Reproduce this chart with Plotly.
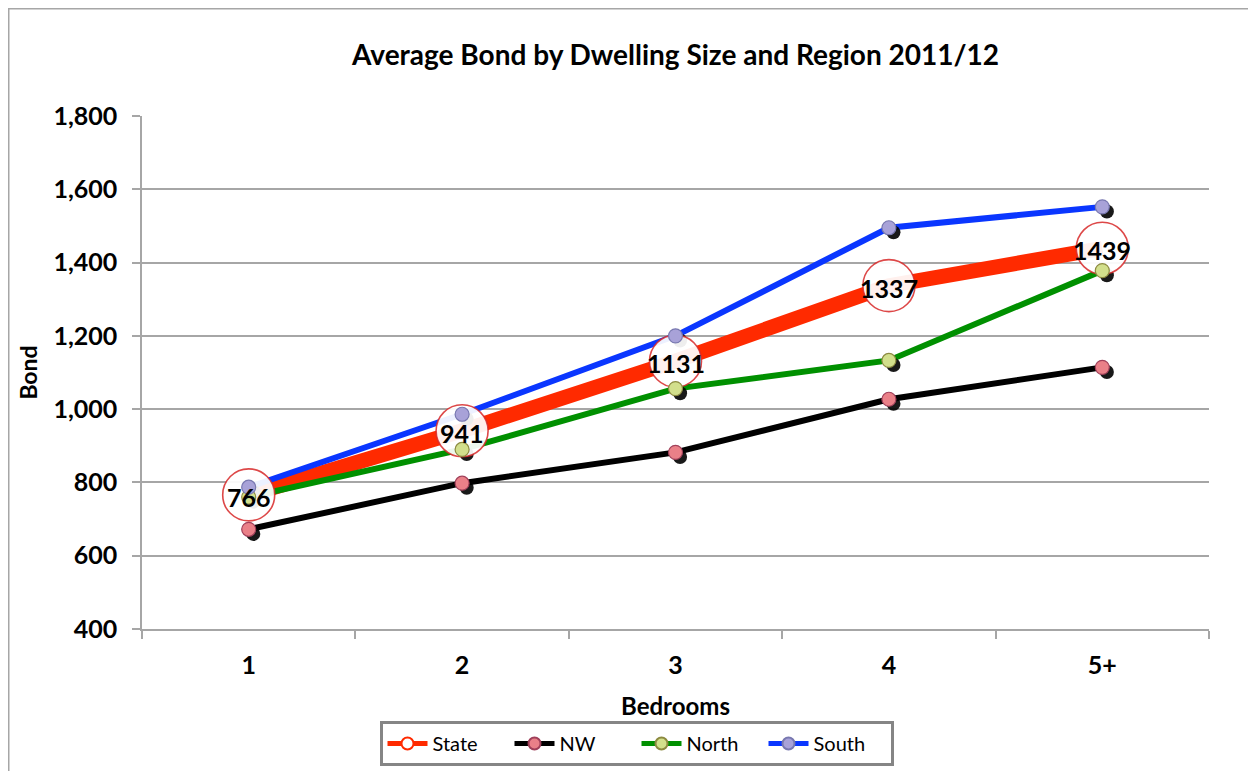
import plotly.graph_objects as go

# ---------------- data ----------------
bedrooms = ["1", "2", "3", "4", "5+"]
state = [766, 941, 1131, 1337, 1439]
nw = [672, 798, 882, 1027, 1114]
north = [760, 890, 1056, 1133, 1378]
south = [787, 986, 1200, 1495, 1552]
y_tick_vals = [400, 600, 800, 1000, 1200, 1400, 1600, 1800]
y_tick_text = ["400", "600", "800", "1,000", "1,200", "1,400", "1,600", "1,800"]

title = "Average Bond by Dwelling Size and Region 2011/12"
FONT = "Lato"

series = [
    # name, values, line colour, line width, marker fill, marker border
    ("State", state, "#ff2a00", 15, "white", "#d23a3a"),
    ("NW", nw, "#000000", 6, "#ea8088", "#a0405a"),
    ("North", north, "#009000", 6, "#d2df8c", "#8c8a40"),
    ("South", south, "#0a36ff", 6, "#a8a2d8", "#7878b0"),
]

fig = go.Figure()

# layer 1: lines
for name, vals, lc, lw, mf, mb in series:
    fig.add_trace(go.Scatter(x=bedrooms, y=vals, mode="lines",
                             line=dict(color=lc, width=lw),
                             showlegend=False, hoverinfo="skip",
                             xaxis="x", yaxis="y"))

# layer 2: marker shadows (small markers only)
for name, vals, lc, lw, mf, mb in series[1:]:
    fig.add_trace(go.Scatter(x=bedrooms, y=vals, mode="markers",
                             marker=dict(color="rgba(0,0,0,0.9)", size=14),
                             showlegend=False, hoverinfo="skip",
                             xaxis="x2", yaxis="y2"))

# layer 3: markers
for name, vals, lc, lw, mf, mb in series:
    if name == "State":
        mk = dict(color="rgba(255,255,255,0.93)", size=52,
                  line=dict(color="rgba(215,40,40,0.85)", width=1.6))
    else:
        mk = dict(color=mf, size=14, line=dict(color=mb, width=1.2))
    fig.add_trace(go.Scatter(x=bedrooms, y=vals, mode="markers", marker=mk,
                             showlegend=False, hoverinfo="skip",
                             xaxis="x3", yaxis="y3"))

# legend entries
for name, vals, lc, lw, mf, mb in series:
    if name == "State":
        mk = dict(color="white", size=13, line=dict(color=lc, width=2))
    else:
        mk = dict(color=mf, size=13, line=dict(color=mb, width=1.2))
    fig.add_trace(go.Scatter(x=[None], y=[None], mode="lines+markers", name=name,
                             line=dict(color=lc, width=min(lw, 10)), marker=mk,
                             xaxis="x3", yaxis="y3"))

# data labels for State (annotations on top of everything);
# on a category axis an annotation's x is the category's index
for i, v in enumerate(state):
    fig.add_annotation(x=i, y=v, xref="x3", yref="y3", text=str(v),
                       showarrow=False, xanchor="center", yanchor="middle",
                       yshift=-2,
                       font=dict(family=FONT, size=25, color="black", weight="bold"))

grid = "#a6a6a6"
xr = [-0.5, 4.5]
yr = [400, 1800]
dx = 0.0215
dy = 12.5

# plot area in figure pixels
L, T, R, B = 134, 108, 1201, 621
PW, PH = R - L, B - T

common_x = dict(type="category", categoryorder="array", categoryarray=bedrooms)

fig.update_layout(
    width=1256, height=771,
    paper_bgcolor="white", plot_bgcolor="white",
    margin=dict(l=L, r=1256 - R, t=T, b=771 - B),
    font=dict(family=FONT, color="black"),
    title=dict(text=title, x=0.5, xref="paper", xanchor="center",
               y=1 - 47 / 771, yref="container", yanchor="middle",
               font=dict(family=FONT, size=28, color="black", weight="bold")),
    xaxis=dict(**common_x, range=xr,
               showline=True, linecolor=grid, linewidth=1.5,
               ticks="outside", tickson="boundaries", ticklen=8, tickcolor=grid,
               tickwidth=1.5,
               showgrid=False, zeroline=False,
               tickfont=dict(family=FONT, size=25, color="black", weight="bold"),
               ticklabelstandoff=13,
               title=dict(text="Bedrooms", standoff=20,
                          font=dict(family=FONT, size=24, color="black", weight="bold"))),
    yaxis=dict(range=yr, tickvals=y_tick_vals, ticktext=y_tick_text,
               showline=True, linecolor=grid, linewidth=1.5,
               ticks="outside", ticklen=8, tickcolor=grid, tickwidth=1.5,
               showgrid=True, gridcolor=grid, gridwidth=1.5, zeroline=False,
               tickfont=dict(family=FONT, size=25, color="black", weight="bold"),
               ticklabelstandoff=10,
               title=dict(text="Bond", standoff=9,
                          font=dict(family=FONT, size=23, color="black", weight="bold"))),
    xaxis2=dict(**common_x, range=[xr[0] - dx, xr[1] - dx], overlaying="x",
                visible=False),
    yaxis2=dict(range=[yr[0] + dy, yr[1] + dy], overlaying="y", visible=False),
    xaxis3=dict(**common_x, range=xr, overlaying="x", visible=False),
    yaxis3=dict(range=yr, overlaying="y", visible=False),
    legend=dict(orientation="h", x=(628.5 - L) / PW, xanchor="center",
                y=(B - 713) / PH, yanchor="top",
                bordercolor="#858585", borderwidth=3, bgcolor="white",
                font=dict(family=FONT, size=20, color="black"),
                itemsizing="constant", itemwidth=40, tracegroupgap=0,
                entrywidth=72, entrywidthmode="pixels"),
    showlegend=True,
)

# outer chart border
fig.add_shape(type="rect", xref="paper", yref="paper",
              x0=(0.5 - L) / PW, x1=(1241 - L) / PW,
              y0=-0.4, y1=(B - 0.5) / PH,
              line=dict(color="#a6a6a6", width=2), fillcolor="rgba(0,0,0,0)",
              layer="below")

fig.write_html("out.html")
